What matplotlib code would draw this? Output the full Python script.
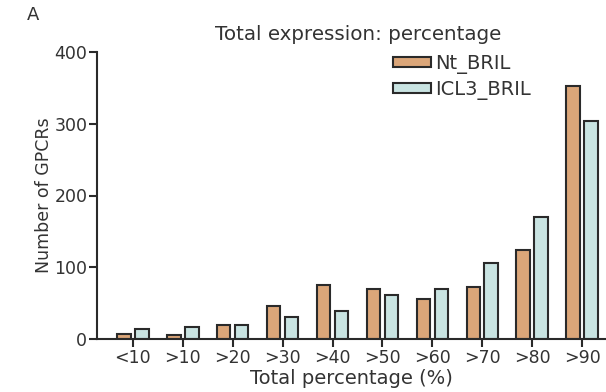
import matplotlib
matplotlib.use("Agg")
import matplotlib.pyplot as plt
import numpy as np

categories = ["<10", ">10", ">20", ">30", ">40", ">50", ">60", ">70", ">80", ">90"]
nt_bril = [7, 5, 20, 46, 75, 70, 56, 72, 124, 353]
icl3_bril = [14, 17, 19, 30, 39, 61, 70, 106, 170, 304]
series_names = ["Nt_BRIL", "ICL3_BRIL"]
y_ticks = [0, 100, 200, 300, 400]

plt.rcParams['font.family'] = ['DejaVu Sans']

fig = plt.figure(figsize=(6.06, 3.92), dpi=100)
ax = fig.add_axes([97/606, 1-339/392, 1-97/606, (339-52)/392])

x = np.arange(len(categories))
w = 0.27
off = 0.18
ax.bar(x - off, nt_bril, w, color="#dba679", edgecolor="#2a2a2a", linewidth=1.5, label=series_names[0])
ax.bar(x + off, icl3_bril, w, color="#c9e4e2", edgecolor="#2a2a2a", linewidth=1.5, label=series_names[1])

ax.set_xlim(-0.72, 9.48)
ax.set_ylim(0, 400)
ax.set_yticks(y_ticks)
ax.set_xticks(x)
ax.set_xticklabels(categories)
for s in ["top", "right"]:
    ax.spines[s].set_visible(False)
for s in ["left", "bottom"]:
    ax.spines[s].set_linewidth(1.5)
    ax.spines[s].set_color("#2a2a2a")
ax.tick_params(axis="both", labelsize=12.5, width=1.5, length=6, color="#2a2a2a", labelcolor="#333333")
ax.tick_params(axis="x", pad=1)
ax.tick_params(axis="y", pad=1)

ax.set_ylabel("Number of GPCRs", fontsize=12.5, color="#333333", labelpad=1)
ax.set_xlabel("Total percentage (%)", fontsize=14, color="#333333", labelpad=2)

fig.text(358/606, 1-35/392, "Total expression: percentage", fontsize=14.3, color="#333333", ha="center", va="center")
fig.text(33/606, 1-15/392, "A", fontsize=13, color="#333333", ha="center", va="center")

leg = ax.legend(loc="upper left", bbox_to_anchor=(393/606, 1-54/392), bbox_transform=fig.transFigure,
                frameon=False, fontsize=14, handlelength=1.95, handleheight=0.45, handletextpad=0.2,
                labelspacing=0.3, borderpad=0, borderaxespad=0)
for t in leg.get_texts():
    t.set_color("#333333")

fig.savefig("out.png", dpi=100)
